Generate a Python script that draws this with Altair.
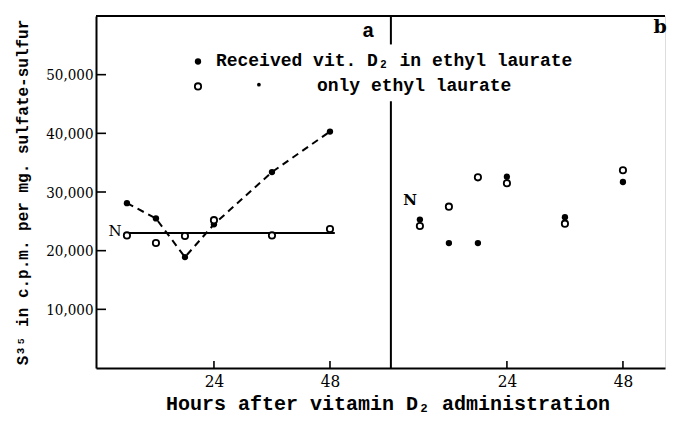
import altair as alt
import pandas as pd

SERIF = "DejaVu Serif"
MONO = "Liberation Mono"
TICKFONT = "DejaVu Serif Condensed, DejaVu Serif"

# ---------------- data ----------------
hours = [6, 12, 18, 24, 36, 48]
a_vit = [28100, 25500, 18900, 24500, 33400, 40300]   # panel a, received vit. D2 in ethyl laurate
a_only = [22600, 21300, 22500, 25200, 22600, 23700]  # panel a, only ethyl laurate
b_vit = [25300, 21300, 21300, 32600, 25700, 31700]   # panel b, received vit. D2
b_only = [24200, 27500, 32500, 31500, 24600, 33700]  # panel b, only ethyl laurate

normal_value = 23000
normal_start = 6
normal_end = 49

x_tick_values = [24, 48]
y_tick_values = [10000, 20000, 30000, 40000, 50000]

PANEL_B_OFFSET = 60.6          # where panel b's hour 0 sits on the shared axis
X_DOMAIN = [-0.4, 117.3]
Y_DOMAIN = [0, 60000]

W, H = 569, 352

# ---------------- tables ----------------
rows = []
for panel, group, vals in [("a", "vit", a_vit), ("a", "only", a_only),
                           ("b", "vit", b_vit), ("b", "only", b_only)]:
    for h, v in zip(hours, vals):
        rows.append({"panel": panel, "group": group, "hours": h, "value": v})
df = pd.DataFrame(rows)

xscale = alt.Scale(domain=X_DOMAIN, nice=False, zero=False)
yscale = alt.Scale(domain=Y_DOMAIN, nice=False)

xaxis = alt.Axis(
    values=[v for v in x_tick_values] + [v + PANEL_B_OFFSET for v in x_tick_values],
    labelExpr="datum.value > 60 ? round(datum.value - 60.6) : datum.value",
    ticks=False, grid=False, domainColor="black", domainWidth=2,
    labelFont=TICKFONT, labelFontSize=17, labelColor="black", labelPadding=5,
    titleFont=MONO, titleFontSize=20, titleFontWeight="bold", titleColor="black",
    titlePadding=4, titleX=W / 2 + 7,
)
yaxis = alt.Axis(
    values=y_tick_values,
    labelExpr="format(datum.value, ',')",
    ticks=False, grid=False, domainColor="black", domainWidth=2,
    labelFont=TICKFONT, labelFontSize=15, labelColor="black", labelPadding=3,
    titleFont=MONO, titleFontSize=16, titleFontWeight="bold", titleColor="black",
    titlePadding=15,
)
XT = "Hours after vitamin D₂ administration"
YT = "S³⁵ in c.p.m. per mg. sulfate-sulfur"


def X(field):
    return alt.X(field, type="quantitative", scale=xscale, axis=xaxis, title=XT)


def Y(field):
    return alt.Y(field, type="quantitative", scale=yscale, axis=yaxis, title=YT)


base = alt.Chart(df).transform_calculate(
    xc=f"datum.hours + (datum.panel == 'b' ? {PANEL_B_OFFSET} : 0)"
)

dashed = base.transform_filter(
    "datum.panel == 'a' && datum.group == 'vit'"
).mark_line(color="black", strokeWidth=2, strokeDash=[7, 5]).encode(
    x=X("xc"), y=Y("value")
)

normal_df = pd.DataFrame({"x0": [normal_start], "x1": [normal_end], "v": [normal_value]})
normal_line = alt.Chart(normal_df).mark_rule(color="black", strokeWidth=2).encode(
    x=X("x0"), x2="x1", y=Y("v")
)

filled_pts = base.transform_filter("datum.group == 'vit'").mark_point(
    filled=True, shape="circle", size=40, color="black", opacity=1
).encode(x=X("xc"), y=Y("value"))

open_pts = base.transform_filter("datum.group == 'only'").mark_point(
    filled=False, shape="circle", size=40, stroke="black", fill="white",
    fillOpacity=1, strokeWidth=1.8, opacity=1
).encode(x=X("xc"), y=Y("value"))

# annotations (N markers and panel letters)
ann_text = ["N", "N", "a", "b"]
ann_x = [4.9, 64.6, 55.9, 116.3]
ann_y = [23300, 28600, 57360, 58040]
ann_align = ["right", "center", "center", "center"]
ann_size = [15, 15, 20, 19]
ann_weight = ["normal", "bold", "bold", "bold"]
ann_font = [SERIF, SERIF, MONO, SERIF]
ann_df = pd.DataFrame({"t": ann_text, "x": ann_x, "y": ann_y})
annotations = alt.layer(*[
    alt.Chart(ann_df.iloc[[i]]).mark_text(
        font=ann_font[i], fontSize=ann_size[i], fontWeight=ann_weight[i],
        align=ann_align[i], baseline="middle", color="black"
    ).encode(x=X("x"), y=Y("y"), text="t:N")
    for i in range(len(ann_df))
])

# hand-drawn legend inside the frame
leg_labels = ["Received vit. D₂ in ethyl laurate", "only ethyl laurate"]
leg_text_x = [24.4, 45.3]
leg_y = [52250, 48000]
leg_sym_x = 20.7
ditto_x = 33.3

leg_text_df = pd.DataFrame({"t": leg_labels, "x": leg_text_x, "y": leg_y})
leg_text = alt.Chart(leg_text_df).mark_text(
    font=MONO, fontSize=18, fontWeight="bold", align="left", baseline="middle",
    color="black"
).encode(x=X("x"), y=Y("y"), text="t:N")

leg_filled = alt.Chart(pd.DataFrame({"x": [leg_sym_x], "y": [leg_y[0]]})).mark_point(
    filled=True, shape="circle", size=40, color="black", opacity=1
).encode(x=X("x"), y=Y("y"))
leg_open = alt.Chart(pd.DataFrame({"x": [leg_sym_x], "y": [leg_y[1]]})).mark_point(
    filled=False, shape="circle", size=40, stroke="black", fill="white",
    fillOpacity=1, strokeWidth=1.8, opacity=1
).encode(x=X("x"), y=Y("y"))
leg_ditto = alt.Chart(pd.DataFrame({"x": [ditto_x], "y": [leg_y[1] + 300]})).mark_point(
    filled=True, shape="circle", size=14, color="black", opacity=1
).encode(x=X("x"), y=Y("y"))

# frame pieces: panel divider (broken by legend), top border, inward ticks
div_df = pd.DataFrame({"x": [PANEL_B_OFFSET, PANEL_B_OFFSET],
                       "y0": [0, 55150], "y1": [45450, 60000]})
divider = alt.Chart(div_df).mark_rule(color="black", strokeWidth=2).encode(
    x=X("x"), y=Y("y0"), y2="y1"
)
top_border = alt.Chart(pd.DataFrame({"d": [0]})).mark_rule(
    color="black", strokeWidth=2
).encode(x=alt.value(0), x2=alt.value(W), y=alt.value(0))

ytick_df = pd.DataFrame({"v": y_tick_values})
yticks = alt.Chart(ytick_df).mark_rule(color="black", strokeWidth=1.6).encode(
    y=Y("v"), x=alt.value(0), x2=alt.value(10)
)
xtick_df = pd.DataFrame({"h": x_tick_values + [v + PANEL_B_OFFSET for v in x_tick_values]})
xticks = alt.Chart(xtick_df).mark_rule(color="black", strokeWidth=1.6).encode(
    x=X("h"), y=alt.value(H), y2=alt.value(H - 7)
)

chart = alt.layer(
    divider, top_border, yticks, xticks,
    normal_line, dashed, filled_pts, open_pts,
    annotations, leg_text, leg_filled, leg_open, leg_ditto,
).properties(
    width=W, height=H,
    padding={"left": 6, "top": 7, "right": 0, "bottom": 0},
).configure_view(stroke=None).configure(background="white")

chart.save("out.html", embed_options={"renderer": "svg", "actions": False})
